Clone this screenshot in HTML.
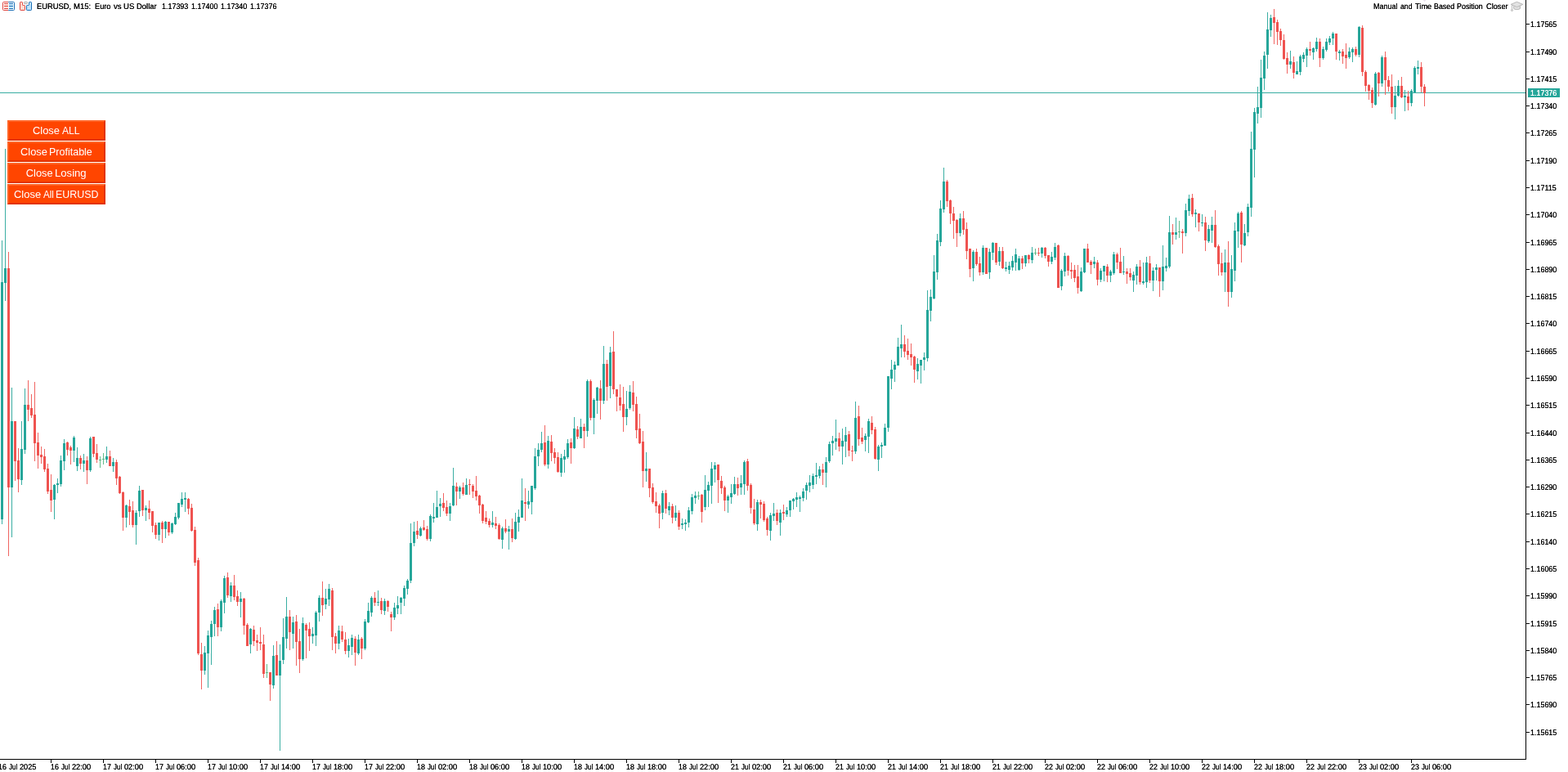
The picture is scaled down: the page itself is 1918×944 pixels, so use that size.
<!DOCTYPE html>
<html lang="en"><head><meta charset="utf-8"><title>EURUSD, M15</title>
<style>
html,body{margin:0;padding:0;background:#fff;}
body{width:1918px;height:944px;position:relative;overflow:hidden;font-family:"Liberation Sans",sans-serif;color:#000;}
#chart{position:absolute;left:0;top:0;width:1918px;height:944px;}
.t{position:absolute;white-space:pre;font-size:9.8px;line-height:12px;height:12px;transform-origin:0 0;text-rendering:geometricPrecision;text-shadow:0 0 0 #000;}
.pl{left:1872.3px;transform:scaleX(0.912);}
.tl{top:933px;transform:scaleX(0.912);}
.vax{position:absolute;left:1866px;top:0;width:1px;height:929px;background:#000;}
.hax{position:absolute;left:0;top:928px;width:1867px;height:1px;background:#000;}
.pt{position:absolute;left:1867px;width:4px;height:1px;background:#000;}
.tt{position:absolute;top:929px;width:1px;height:4px;background:#000;}
.bid{position:absolute;left:0;top:113px;width:1866px;height:1px;background:#38ada2;}
.bidlab{position:absolute;left:1869px;top:108px;width:39px;height:11px;background:#26a69a;}
.bidtxt{color:#fff;text-shadow:0 0 0 #fff;}
.btn{position:absolute;left:9px;width:120px;height:25px;box-sizing:border-box;background:#ff4500;border:2px solid;border-color:#ff6426 #e23300 #e23300 #ff6426;color:#fff;font-size:12.8px;line-height:21px;text-align:center;white-space:pre;}
.bw{position:absolute;top:0;transform-origin:0 0;}
</style></head><body>
<div class="bid"></div>
<svg id="chart" width="1918" height="944" viewBox="0 0 1918 944" shape-rendering="crispEdges">
<path fill="#3aaea3" d="M2 294h1V641h-1zM6 182h1V368h-1zM14 474h1V657h-1zM26 515h1V593h-1zM30 475h1V555h-1zM66 592h1V635h-1zM70 585h1V603h-1zM74 557h1V595h-1zM78 537h1V575h-1zM90 533h1V565h-1zM94 547h1V576h-1zM102 555h1V577h-1zM110 534h1V577h-1zM130 546h1V566h-1zM138 560h1V577h-1zM154 617h1V645h-1zM166 624h1V666h-1zM170 594h1V632h-1zM178 618h1V637h-1zM194 639h1V661h-1zM202 637h1V658h-1zM210 639h1V653h-1zM214 627h1V642h-1zM218 615h1V635h-1zM222 602h1V620h-1zM226 602h1V626h-1zM250 790h1V825h-1zM254 771h1V841h-1zM258 759h1V813h-1zM262 742h1V778h-1zM270 733h1V772h-1zM274 704h1V750h-1zM282 712h1V736h-1zM294 724h1V755h-1zM306 768h1V799h-1zM334 789h1V842h-1zM342 788h1V918h-1zM346 756h1V812h-1zM350 730h1V793h-1zM358 754h1V793h-1zM370 755h1V808h-1zM382 767h1V787h-1zM386 747h1V790h-1zM390 728h1V760h-1zM398 720h1V745h-1zM402 714h1V741h-1zM414 765h1V794h-1zM426 781h1V804h-1zM430 776h1V801h-1zM438 776h1V801h-1zM446 757h1V795h-1zM450 737h1V762h-1zM454 729h1V754h-1zM462 722h1V741h-1zM470 732h1V752h-1zM482 737h1V758h-1zM486 729h1V751h-1zM490 730h1V751h-1zM494 716h1V741h-1zM498 708h1V727h-1zM502 640h1V713h-1zM506 638h1V668h-1zM514 644h1V656h-1zM526 629h1V662h-1zM530 615h1V639h-1zM534 600h1V633h-1zM538 609h1V632h-1zM550 615h1V637h-1zM554 572h1V619h-1zM562 594h1V610h-1zM570 585h1V605h-1zM602 625h1V645h-1zM614 644h1V671h-1zM622 643h1V672h-1zM630 627h1V660h-1zM634 623h1V650h-1zM638 585h1V633h-1zM646 600h1V622h-1zM650 594h1V629h-1zM654 548h1V599h-1zM658 542h1V570h-1zM662 528h1V553h-1zM670 533h1V573h-1zM686 555h1V583h-1zM690 550h1V578h-1zM694 537h1V561h-1zM702 510h1V549h-1zM710 512h1V536h-1zM718 464h1V534h-1zM726 487h1V531h-1zM730 473h1V506h-1zM738 423h1V494h-1zM746 424h1V487h-1zM766 478h1V520h-1zM770 471h1V501h-1zM790 553h1V589h-1zM810 600h1V635h-1zM818 614h1V630h-1zM826 618h1V637h-1zM834 634h1V647h-1zM838 635h1V649h-1zM842 620h1V645h-1zM846 604h1V629h-1zM850 601h1V616h-1zM862 581h1V624h-1zM866 589h1V620h-1zM870 565h1V616h-1zM874 565h1V590h-1zM890 605h1V627h-1zM894 592h1V616h-1zM898 583h1V605h-1zM906 581h1V605h-1zM910 563h1V605h-1zM926 611h1V649h-1zM942 627h1V661h-1zM946 615h1V637h-1zM954 623h1V655h-1zM962 620h1V632h-1zM966 612h1V632h-1zM970 609h1V623h-1zM974 602h1V620h-1zM978 606h1V626h-1zM982 597h1V613h-1zM986 590h1V611h-1zM990 581h1V602h-1zM994 579h1V598h-1zM998 566h1V592h-1zM1002 570h1V585h-1zM1010 559h1V596h-1zM1014 540h1V566h-1zM1018 533h1V557h-1zM1022 513h1V550h-1zM1030 524h1V568h-1zM1034 522h1V559h-1zM1046 491h1V555h-1zM1058 530h1V552h-1zM1062 512h1V554h-1zM1074 544h1V576h-1zM1078 541h1V560h-1zM1082 518h1V545h-1zM1086 460h1V528h-1zM1090 440h1V476h-1zM1094 442h1V467h-1zM1098 413h1V447h-1zM1102 397h1V437h-1zM1122 438h1V464h-1zM1126 440h1V469h-1zM1130 431h1V453h-1zM1134 355h1V442h-1zM1138 354h1V393h-1zM1142 312h1V366h-1zM1146 286h1V342h-1zM1150 245h1V301h-1zM1154 205h1V260h-1zM1174 261h1V289h-1zM1190 306h1V344h-1zM1202 300h1V336h-1zM1210 304h1V341h-1zM1214 296h1V318h-1zM1222 302h1V325h-1zM1230 320h1V332h-1zM1234 320h1V335h-1zM1238 313h1V331h-1zM1242 304h1V331h-1zM1246 313h1V331h-1zM1254 312h1V326h-1zM1262 302h1V322h-1zM1274 302h1V315h-1zM1286 308h1V323h-1zM1290 297h1V318h-1zM1298 329h1V355h-1zM1302 309h1V338h-1zM1322 327h1V357h-1zM1326 304h1V334h-1zM1338 314h1V328h-1zM1346 328h1V345h-1zM1350 325h1V344h-1zM1358 330h1V345h-1zM1362 308h1V336h-1zM1374 313h1V336h-1zM1386 332h1V357h-1zM1390 323h1V348h-1zM1398 321h1V348h-1zM1402 314h1V352h-1zM1410 327h1V356h-1zM1414 323h1V343h-1zM1422 300h1V355h-1zM1426 315h1V332h-1zM1430 264h1V328h-1zM1438 266h1V293h-1zM1450 249h1V289h-1zM1454 238h1V264h-1zM1462 256h1V278h-1zM1470 262h1V277h-1zM1478 275h1V297h-1zM1482 265h1V297h-1zM1498 305h1V357h-1zM1506 312h1V364h-1zM1510 272h1V344h-1zM1514 259h1V303h-1zM1522 274h1V301h-1zM1526 249h1V289h-1zM1530 161h1V265h-1zM1534 132h1V217h-1zM1538 106h1V151h-1zM1542 73h1V144h-1zM1546 63h1V110h-1zM1550 15h1V84h-1zM1554 18h1V45h-1zM1578 62h1V84h-1zM1586 75h1V91h-1zM1590 67h1V92h-1zM1594 64h1V76h-1zM1598 58h1V82h-1zM1606 58h1V73h-1zM1610 46h1V63h-1zM1618 57h1V73h-1zM1622 47h1V63h-1zM1626 44h1V55h-1zM1630 39h1V55h-1zM1638 61h1V74h-1zM1650 58h1V72h-1zM1654 58h1V76h-1zM1662 32h1V70h-1zM1682 88h1V129h-1zM1690 68h1V106h-1zM1706 105h1V146h-1zM1710 98h1V118h-1zM1718 110h1V136h-1zM1726 109h1V130h-1zM1730 81h1V113h-1zM1734 74h1V91h-1z"/>
<path fill="#f06461" d="M10 308h1V680h-1zM18 515h1V588h-1zM22 548h1V602h-1zM34 465h1V515h-1zM38 482h1V511h-1zM42 467h1V564h-1zM46 529h1V573h-1zM50 546h1V567h-1zM54 549h1V577h-1zM58 567h1V604h-1zM62 580h1V626h-1zM82 540h1V557h-1zM86 545h1V568h-1zM98 557h1V574h-1zM106 558h1V592h-1zM114 534h1V559h-1zM118 543h1V566h-1zM134 551h1V570h-1zM142 562h1V593h-1zM146 582h1V604h-1zM150 601h1V649h-1zM158 611h1V642h-1zM162 613h1V645h-1zM174 599h1V631h-1zM182 612h1V635h-1zM186 625h1V651h-1zM190 639h1V659h-1zM198 637h1V664h-1zM206 638h1V655h-1zM230 609h1V629h-1zM234 616h1V650h-1zM238 644h1V692h-1zM242 682h1V801h-1zM246 786h1V843h-1zM266 738h1V778h-1zM278 700h1V731h-1zM286 703h1V734h-1zM290 722h1V741h-1zM298 731h1V776h-1zM302 762h1V790h-1zM310 765h1V790h-1zM314 776h1V796h-1zM318 767h1V795h-1zM322 776h1V829h-1zM330 822h1V857h-1zM338 784h1V826h-1zM354 746h1V795h-1zM362 752h1V814h-1zM366 769h1V823h-1zM374 762h1V805h-1zM378 761h1V796h-1zM394 711h1V753h-1zM406 719h1V795h-1zM410 774h1V799h-1zM418 765h1V785h-1zM422 773h1V800h-1zM434 778h1V814h-1zM442 779h1V806h-1zM458 724h1V741h-1zM466 731h1V751h-1zM474 734h1V748h-1zM478 748h1V772h-1zM510 637h1V659h-1zM518 636h1V649h-1zM522 643h1V661h-1zM542 603h1V625h-1zM546 612h1V631h-1zM558 590h1V618h-1zM566 590h1V606h-1zM574 586h1V605h-1zM578 592h1V609h-1zM582 582h1V612h-1zM586 605h1V628h-1zM590 616h1V640h-1zM594 625h1V641h-1zM598 634h1V645h-1zM606 632h1V647h-1zM610 640h1V660h-1zM618 635h1V652h-1zM626 634h1V663h-1zM642 597h1V637h-1zM666 520h1V570h-1zM674 532h1V564h-1zM678 548h1V567h-1zM682 553h1V578h-1zM698 536h1V567h-1zM706 521h1V537h-1zM714 518h1V548h-1zM722 464h1V514h-1zM734 465h1V513h-1zM742 440h1V490h-1zM750 405h1V482h-1zM754 476h1V503h-1zM758 470h1V502h-1zM762 473h1V528h-1zM774 466h1V503h-1zM778 485h1V536h-1zM782 506h1V543h-1zM786 527h1V596h-1zM794 573h1V608h-1zM798 591h1V616h-1zM802 602h1V627h-1zM806 616h1V646h-1zM814 599h1V628h-1zM822 616h1V640h-1zM830 624h1V648h-1zM858 604h1V639h-1zM878 568h1V615h-1zM882 582h1V604h-1zM886 594h1V625h-1zM902 584h1V606h-1zM914 561h1V600h-1zM918 591h1V628h-1zM922 610h1V642h-1zM930 611h1V634h-1zM934 613h1V638h-1zM938 632h1V655h-1zM950 623h1V642h-1zM958 617h1V636h-1zM1006 567h1V593h-1zM1026 529h1V552h-1zM1038 527h1V558h-1zM1042 545h1V564h-1zM1050 496h1V545h-1zM1054 523h1V543h-1zM1066 509h1V531h-1zM1070 522h1V562h-1zM1106 410h1V437h-1zM1110 414h1V440h-1zM1114 420h1V447h-1zM1118 435h1V468h-1zM1158 220h1V253h-1zM1162 244h1V274h-1zM1166 253h1V292h-1zM1170 268h1V302h-1zM1178 258h1V287h-1zM1182 272h1V317h-1zM1186 304h1V339h-1zM1194 304h1V325h-1zM1198 314h1V337h-1zM1206 303h1V335h-1zM1218 297h1V324h-1zM1226 302h1V329h-1zM1250 313h1V329h-1zM1258 311h1V322h-1zM1270 303h1V313h-1zM1278 302h1V316h-1zM1282 312h1V326h-1zM1294 299h1V352h-1zM1306 312h1V337h-1zM1310 321h1V341h-1zM1314 324h1V345h-1zM1318 324h1V359h-1zM1330 298h1V321h-1zM1334 318h1V335h-1zM1342 318h1V349h-1zM1354 323h1V345h-1zM1366 309h1V329h-1zM1370 303h1V334h-1zM1378 328h1V347h-1zM1382 328h1V343h-1zM1394 318h1V348h-1zM1406 313h1V346h-1zM1418 327h1V363h-1zM1434 274h1V299h-1zM1446 280h1V310h-1zM1458 237h1V265h-1zM1466 261h1V283h-1zM1474 265h1V307h-1zM1486 257h1V303h-1zM1490 299h1V337h-1zM1494 309h1V337h-1zM1502 295h1V375h-1zM1518 258h1V321h-1zM1558 11h1V54h-1zM1562 24h1V55h-1zM1566 35h1V56h-1zM1570 42h1V73h-1zM1574 64h1V90h-1zM1582 69h1V96h-1zM1602 51h1V68h-1zM1614 47h1V82h-1zM1634 41h1V73h-1zM1642 60h1V78h-1zM1646 53h1V84h-1zM1658 57h1V69h-1zM1666 31h1V93h-1zM1670 86h1V112h-1zM1674 103h1V122h-1zM1678 107h1V132h-1zM1686 88h1V118h-1zM1694 63h1V116h-1zM1698 93h1V112h-1zM1702 91h1V139h-1zM1714 94h1V120h-1zM1722 111h1V135h-1zM1738 76h1V113h-1zM1742 103h1V130h-1z"/>
<path fill="#62bc8a" d="M122 558h1V572h-1zM126 554h1V568h-1zM326 812h1V829h-1zM854 601h1V611h-1zM1266 304h1V312h-1zM1442 270h1V291h-1z"/>
<path fill="#26a69a" d="M1 345h3V635h-3zM5 328h3V346h-3zM13 515h3V596h-3zM25 549h3V587h-3zM29 495h3V550h-3zM65 593h3V611h-3zM69 591h3V593h-3zM73 563h3V592h-3zM77 542h3V564h-3zM89 535h3V551h-3zM93 560h3V570h-3zM101 563h3V567h-3zM109 536h3V575h-3zM129 558h3V562h-3zM137 565h3V570h-3zM153 618h3V633h-3zM165 627h3V642h-3zM169 600h3V625h-3zM177 621h3V624h-3zM193 639h3V654h-3zM201 638h3V647h-3zM209 640h3V651h-3zM213 632h3V641h-3zM217 615h3V633h-3zM221 610h3V617h-3zM225 609h3V611h-3zM249 798h3V820h-3zM253 777h3V799h-3zM257 763h3V779h-3zM261 746h3V763h-3zM269 735h3V767h-3zM273 707h3V737h-3zM281 716h3V729h-3zM293 732h3V736h-3zM305 769h3V788h-3zM333 802h3V838h-3zM341 808h3V826h-3zM345 779h3V807h-3zM349 754h3V781h-3zM357 761h3V775h-3zM369 762h3V806h-3zM381 775h3V778h-3zM385 749h3V777h-3zM389 731h3V749h-3zM397 732h3V739h-3zM401 720h3V733h-3zM413 771h3V787h-3zM425 789h3V796h-3zM429 780h3V791h-3zM437 782h3V799h-3zM445 760h3V793h-3zM449 747h3V761h-3zM453 731h3V749h-3zM461 736h3V737h-3zM469 735h3V747h-3zM481 743h3V755h-3zM485 740h3V744h-3zM489 731h3V737h-3zM493 719h3V732h-3zM497 710h3V720h-3zM501 664h3V710h-3zM505 650h3V664h-3zM513 646h3V655h-3zM525 631h3V659h-3zM529 632h3V634h-3zM533 620h3V633h-3zM537 616h3V619h-3zM549 619h3V628h-3zM553 594h3V618h-3zM561 596h3V601h-3zM569 593h3V605h-3zM601 639h3V642h-3zM613 646h3V660h-3zM621 647h3V650h-3zM629 638h3V659h-3zM633 632h3V639h-3zM637 612h3V633h-3zM645 613h3V617h-3zM649 594h3V614h-3zM653 558h3V597h-3zM657 550h3V558h-3zM661 542h3V550h-3zM669 539h3V568h-3zM685 560h3V578h-3zM689 558h3V562h-3zM693 542h3V559h-3zM701 524h3V548h-3zM709 522h3V536h-3zM717 466h3V527h-3zM725 489h3V511h-3zM729 474h3V490h-3zM737 445h3V490h-3zM745 431h3V472h-3zM765 500h3V510h-3zM769 479h3V499h-3zM789 573h3V576h-3zM809 603h3V627h-3zM817 619h3V624h-3zM825 627h3V633h-3zM833 640h3V642h-3zM837 639h3V641h-3zM841 624h3V639h-3zM845 608h3V625h-3zM849 606h3V609h-3zM861 599h3V620h-3zM865 593h3V600h-3zM869 573h3V594h-3zM873 569h3V574h-3zM889 607h3V612h-3zM893 603h3V608h-3zM897 592h3V604h-3zM905 591h3V596h-3zM909 565h3V592h-3zM925 614h3V641h-3zM941 630h3V649h-3zM945 628h3V631h-3zM953 627h3V639h-3zM961 624h3V629h-3zM965 612h3V624h-3zM969 610h3V613h-3zM973 608h3V611h-3zM977 608h3V610h-3zM981 601h3V609h-3zM985 593h3V600h-3zM989 590h3V594h-3zM993 582h3V593h-3zM997 581h3V583h-3zM1001 574h3V582h-3zM1009 565h3V578h-3zM1013 543h3V564h-3zM1017 539h3V542h-3zM1021 536h3V540h-3zM1029 539h3V546h-3zM1033 532h3V540h-3zM1045 511h3V552h-3zM1057 533h3V538h-3zM1061 515h3V534h-3zM1073 546h3V562h-3zM1077 544h3V546h-3zM1081 523h3V545h-3zM1085 460h3V523h-3zM1089 452h3V463h-3zM1093 446h3V452h-3zM1097 424h3V447h-3zM1101 421h3V426h-3zM1121 445h3V454h-3zM1125 440h3V447h-3zM1129 437h3V440h-3zM1133 379h3V438h-3zM1137 363h3V380h-3zM1141 332h3V365h-3zM1145 294h3V333h-3zM1149 255h3V296h-3zM1153 222h3V256h-3zM1173 267h3V285h-3zM1189 308h3V328h-3zM1201 303h3V333h-3zM1209 308h3V333h-3zM1213 297h3V309h-3zM1221 307h3V320h-3zM1229 327h3V329h-3zM1233 325h3V330h-3zM1237 319h3V327h-3zM1241 311h3V321h-3zM1245 316h3V330h-3zM1253 312h3V322h-3zM1261 309h3V318h-3zM1273 303h3V310h-3zM1285 314h3V320h-3zM1289 302h3V315h-3zM1297 331h3V350h-3zM1301 313h3V332h-3zM1321 332h3V356h-3zM1325 304h3V333h-3zM1337 320h3V323h-3zM1345 331h3V342h-3zM1349 325h3V332h-3zM1357 332h3V337h-3zM1361 311h3V334h-3zM1373 332h3V333h-3zM1385 336h3V343h-3zM1389 326h3V337h-3zM1397 344h3V346h-3zM1401 321h3V345h-3zM1409 331h3V343h-3zM1413 327h3V330h-3zM1421 326h3V344h-3zM1425 325h3V328h-3zM1429 284h3V326h-3zM1437 284h3V287h-3zM1449 257h3V285h-3zM1453 243h3V258h-3zM1461 260h3V262h-3zM1469 272h3V273h-3zM1477 280h3V295h-3zM1481 275h3V282h-3zM1497 321h3V333h-3zM1505 329h3V357h-3zM1509 282h3V331h-3zM1513 261h3V283h-3zM1521 285h3V300h-3zM1525 253h3V284h-3zM1529 182h3V254h-3zM1533 137h3V183h-3zM1537 131h3V139h-3zM1541 95h3V132h-3zM1545 68h3V96h-3zM1549 36h3V67h-3zM1553 22h3V37h-3zM1577 75h3V79h-3zM1585 87h3V91h-3zM1589 69h3V88h-3zM1593 67h3V72h-3zM1597 60h3V68h-3zM1605 59h3V64h-3zM1609 51h3V60h-3zM1617 60h3V71h-3zM1621 51h3V61h-3zM1625 47h3V52h-3zM1629 41h3V47h-3zM1637 63h3V65h-3zM1649 63h3V70h-3zM1653 60h3V64h-3zM1661 33h3V67h-3zM1681 90h3V128h-3zM1689 70h3V102h-3zM1705 117h3V131h-3zM1709 105h3V117h-3zM1717 117h3V119h-3zM1725 111h3V126h-3zM1729 83h3V113h-3zM1733 82h3V84h-3z"/>
<path fill="#ef5350" d="M9 328h3V596h-3zM17 515h3V564h-3zM21 563h3V586h-3zM33 495h3V501h-3zM37 499h3V508h-3zM41 507h3V542h-3zM45 541h3V557h-3zM49 556h3V559h-3zM53 558h3V574h-3zM57 573h3V601h-3zM61 599h3V612h-3zM81 541h3V550h-3zM85 547h3V551h-3zM97 560h3V567h-3zM105 563h3V575h-3zM113 534h3V555h-3zM117 554h3V562h-3zM133 558h3V570h-3zM141 565h3V585h-3zM145 583h3V603h-3zM149 602h3V633h-3zM157 619h3V626h-3zM161 624h3V642h-3zM173 599h3V624h-3zM181 622h3V627h-3zM185 625h3V643h-3zM189 642h3V654h-3zM197 639h3V647h-3zM205 638h3V651h-3zM229 610h3V622h-3zM233 621h3V649h-3zM237 648h3V688h-3zM241 685h3V799h-3zM245 800h3V820h-3zM265 745h3V767h-3zM277 706h3V728h-3zM285 716h3V730h-3zM289 729h3V736h-3zM297 732h3V765h-3zM301 764h3V790h-3zM309 770h3V784h-3zM313 783h3V786h-3zM317 785h3V787h-3zM321 788h3V824h-3zM329 822h3V837h-3zM337 801h3V826h-3zM353 754h3V773h-3zM361 760h3V785h-3zM365 784h3V806h-3zM373 764h3V771h-3zM377 769h3V778h-3zM393 731h3V740h-3zM405 722h3V779h-3zM409 778h3V787h-3zM417 772h3V782h-3zM421 782h3V796h-3zM433 781h3V798h-3zM441 781h3V793h-3zM457 731h3V737h-3zM465 735h3V746h-3zM473 735h3V742h-3zM477 751h3V755h-3zM509 649h3V654h-3zM517 645h3V648h-3zM521 647h3V659h-3zM541 615h3V621h-3zM545 620h3V628h-3zM557 595h3V601h-3zM565 596h3V604h-3zM573 592h3V593h-3zM577 594h3V601h-3zM581 600h3V607h-3zM585 606h3V618h-3zM589 617h3V637h-3zM593 633h3V638h-3zM597 637h3V642h-3zM605 640h3V643h-3zM609 642h3V659h-3zM617 646h3V650h-3zM625 647h3V658h-3zM641 614h3V616h-3zM665 541h3V568h-3zM673 540h3V554h-3zM677 553h3V560h-3zM681 559h3V577h-3zM697 541h3V548h-3zM705 525h3V534h-3zM713 522h3V527h-3zM721 466h3V511h-3zM733 475h3V490h-3zM741 445h3V473h-3zM749 430h3V476h-3zM753 476h3V485h-3zM757 486h3V496h-3zM761 494h3V510h-3zM773 480h3V495h-3zM777 494h3V526h-3zM781 524h3V542h-3zM785 540h3V576h-3zM793 573h3V597h-3zM797 596h3V614h-3zM801 613h3V619h-3zM805 618h3V628h-3zM813 603h3V622h-3zM821 619h3V633h-3zM829 627h3V644h-3zM857 605h3V626h-3zM877 568h3V587h-3zM881 588h3V597h-3zM885 596h3V612h-3zM901 592h3V597h-3zM913 564h3V594h-3zM917 593h3V621h-3zM921 623h3V640h-3zM929 614h3V617h-3zM933 616h3V636h-3zM937 634h3V648h-3zM949 627h3V637h-3zM957 626h3V628h-3zM1005 574h3V578h-3zM1025 536h3V546h-3zM1037 531h3V551h-3zM1041 551h3V552h-3zM1049 509h3V537h-3zM1053 535h3V540h-3zM1065 517h3V526h-3zM1069 525h3V561h-3zM1105 421h3V430h-3zM1109 429h3V434h-3zM1113 433h3V437h-3zM1117 436h3V452h-3zM1157 222h3V246h-3zM1161 245h3V261h-3zM1165 261h3V270h-3zM1169 269h3V285h-3zM1177 267h3V281h-3zM1181 280h3V307h-3zM1185 304h3V329h-3zM1193 308h3V323h-3zM1197 322h3V333h-3zM1205 303h3V335h-3zM1217 297h3V321h-3zM1225 307h3V328h-3zM1249 316h3V322h-3zM1257 312h3V317h-3zM1269 309h3V310h-3zM1277 303h3V313h-3zM1281 312h3V320h-3zM1293 300h3V352h-3zM1305 313h3V331h-3zM1309 330h3V332h-3zM1313 330h3V340h-3zM1317 338h3V352h-3zM1329 304h3V321h-3zM1333 320h3V324h-3zM1341 321h3V342h-3zM1353 326h3V337h-3zM1365 311h3V321h-3zM1369 320h3V334h-3zM1377 332h3V335h-3zM1381 334h3V339h-3zM1393 326h3V345h-3zM1405 322h3V343h-3zM1417 327h3V344h-3zM1433 284h3V287h-3zM1445 283h3V285h-3zM1457 242h3V262h-3zM1465 261h3V272h-3zM1473 272h3V294h-3zM1485 275h3V302h-3zM1489 301h3V323h-3zM1493 322h3V333h-3zM1501 321h3V357h-3zM1517 260h3V299h-3zM1557 21h3V28h-3zM1561 27h3V39h-3zM1565 38h3V49h-3zM1569 49h3V72h-3zM1573 71h3V79h-3zM1581 76h3V89h-3zM1601 60h3V62h-3zM1613 51h3V71h-3zM1633 41h3V63h-3zM1641 63h3V69h-3zM1645 67h3V71h-3zM1657 60h3V67h-3zM1665 34h3V88h-3zM1669 88h3V105h-3zM1673 104h3V111h-3zM1677 110h3V126h-3zM1685 89h3V102h-3zM1693 70h3V98h-3zM1697 98h3V106h-3zM1701 106h3V131h-3zM1713 105h3V119h-3zM1721 118h3V126h-3zM1737 82h3V106h-3zM1741 106h3V114h-3z"/>
<path fill="#62bc8a" d="M121 562h3V563h-3zM125 561h3V562h-3zM325 822h3V823h-3zM853 606h3V607h-3zM1265 309h3V310h-3zM1441 283h3V284h-3z"/>
<path d="M1740.700 0h3.800l-1.900 2.200z" fill="#eae3ee" shape-rendering="auto"/>
</svg>
<div class="vax"></div><div class="hax"></div>
<div class="pt" style="top:29px"></div><span class="t pl" style="top:25px">1.17565</span>
<div class="pt" style="top:63px"></div><span class="t pl" style="top:59px">1.17490</span>
<div class="pt" style="top:96px"></div><span class="t pl" style="top:92px">1.17415</span>
<div class="pt" style="top:129px"></div><span class="t pl" style="top:125px">1.17340</span>
<div class="pt" style="top:162px"></div><span class="t pl" style="top:158px">1.17265</span>
<div class="pt" style="top:196px"></div><span class="t pl" style="top:192px">1.17190</span>
<div class="pt" style="top:229px"></div><span class="t pl" style="top:225px">1.17115</span>
<div class="pt" style="top:262px"></div><span class="t pl" style="top:258px">1.17040</span>
<div class="pt" style="top:296px"></div><span class="t pl" style="top:292px">1.16965</span>
<div class="pt" style="top:329px"></div><span class="t pl" style="top:325px">1.16890</span>
<div class="pt" style="top:362px"></div><span class="t pl" style="top:358px">1.16815</span>
<div class="pt" style="top:395px"></div><span class="t pl" style="top:391px">1.16740</span>
<div class="pt" style="top:429px"></div><span class="t pl" style="top:425px">1.16665</span>
<div class="pt" style="top:462px"></div><span class="t pl" style="top:458px">1.16590</span>
<div class="pt" style="top:495px"></div><span class="t pl" style="top:491px">1.16515</span>
<div class="pt" style="top:529px"></div><span class="t pl" style="top:525px">1.16440</span>
<div class="pt" style="top:562px"></div><span class="t pl" style="top:558px">1.16365</span>
<div class="pt" style="top:595px"></div><span class="t pl" style="top:591px">1.16290</span>
<div class="pt" style="top:628px"></div><span class="t pl" style="top:624px">1.16215</span>
<div class="pt" style="top:662px"></div><span class="t pl" style="top:658px">1.16140</span>
<div class="pt" style="top:695px"></div><span class="t pl" style="top:691px">1.16065</span>
<div class="pt" style="top:728px"></div><span class="t pl" style="top:724px">1.15990</span>
<div class="pt" style="top:762px"></div><span class="t pl" style="top:758px">1.15915</span>
<div class="pt" style="top:795px"></div><span class="t pl" style="top:791px">1.15840</span>
<div class="pt" style="top:828px"></div><span class="t pl" style="top:824px">1.15765</span>
<div class="pt" style="top:861px"></div><span class="t pl" style="top:857px">1.15690</span>
<div class="pt" style="top:895px"></div><span class="t pl" style="top:891px">1.15615</span>
<span class="t tl" style="left:-2.00px;transform:scaleX(0.9)">16 </span><span class="t tl" style="left:11.00px;transform:scaleX(0.8);letter-spacing:0.25px">Jul </span><span class="t tl" style="left:24.40px;transform:scaleX(0.93)">2025</span>
<div class="tt" style="left:62px"></div>
<span class="t tl" style="left:62.00px;transform:scaleX(0.9)">16 </span><span class="t tl" style="left:75.00px;transform:scaleX(0.8);letter-spacing:0.25px">Jul </span><span class="t tl" style="left:88.40px;transform:scaleX(0.94)">22:00</span>
<div class="tt" style="left:126px"></div>
<span class="t tl" style="left:126.00px;transform:scaleX(0.9)">17 </span><span class="t tl" style="left:139.00px;transform:scaleX(0.8);letter-spacing:0.25px">Jul </span><span class="t tl" style="left:152.40px;transform:scaleX(0.94)">02:00</span>
<div class="tt" style="left:190px"></div>
<span class="t tl" style="left:190.00px;transform:scaleX(0.9)">17 </span><span class="t tl" style="left:203.00px;transform:scaleX(0.8);letter-spacing:0.25px">Jul </span><span class="t tl" style="left:216.40px;transform:scaleX(0.94)">06:00</span>
<div class="tt" style="left:254px"></div>
<span class="t tl" style="left:254.00px;transform:scaleX(0.9)">17 </span><span class="t tl" style="left:267.00px;transform:scaleX(0.8);letter-spacing:0.25px">Jul </span><span class="t tl" style="left:280.40px;transform:scaleX(0.94)">10:00</span>
<div class="tt" style="left:318px"></div>
<span class="t tl" style="left:318.00px;transform:scaleX(0.9)">17 </span><span class="t tl" style="left:331.00px;transform:scaleX(0.8);letter-spacing:0.25px">Jul </span><span class="t tl" style="left:344.40px;transform:scaleX(0.94)">14:00</span>
<div class="tt" style="left:382px"></div>
<span class="t tl" style="left:382.00px;transform:scaleX(0.9)">17 </span><span class="t tl" style="left:395.00px;transform:scaleX(0.8);letter-spacing:0.25px">Jul </span><span class="t tl" style="left:408.40px;transform:scaleX(0.94)">18:00</span>
<div class="tt" style="left:446px"></div>
<span class="t tl" style="left:446.00px;transform:scaleX(0.9)">17 </span><span class="t tl" style="left:459.00px;transform:scaleX(0.8);letter-spacing:0.25px">Jul </span><span class="t tl" style="left:472.40px;transform:scaleX(0.94)">22:00</span>
<div class="tt" style="left:510px"></div>
<span class="t tl" style="left:510.00px;transform:scaleX(0.9)">18 </span><span class="t tl" style="left:523.00px;transform:scaleX(0.8);letter-spacing:0.25px">Jul </span><span class="t tl" style="left:536.40px;transform:scaleX(0.94)">02:00</span>
<div class="tt" style="left:574px"></div>
<span class="t tl" style="left:574.00px;transform:scaleX(0.9)">18 </span><span class="t tl" style="left:587.00px;transform:scaleX(0.8);letter-spacing:0.25px">Jul </span><span class="t tl" style="left:600.40px;transform:scaleX(0.94)">06:00</span>
<div class="tt" style="left:638px"></div>
<span class="t tl" style="left:638.00px;transform:scaleX(0.9)">18 </span><span class="t tl" style="left:651.00px;transform:scaleX(0.8);letter-spacing:0.25px">Jul </span><span class="t tl" style="left:664.40px;transform:scaleX(0.94)">10:00</span>
<div class="tt" style="left:702px"></div>
<span class="t tl" style="left:702.00px;transform:scaleX(0.9)">18 </span><span class="t tl" style="left:715.00px;transform:scaleX(0.8);letter-spacing:0.25px">Jul </span><span class="t tl" style="left:728.40px;transform:scaleX(0.94)">14:00</span>
<div class="tt" style="left:766px"></div>
<span class="t tl" style="left:766.00px;transform:scaleX(0.9)">18 </span><span class="t tl" style="left:779.00px;transform:scaleX(0.8);letter-spacing:0.25px">Jul </span><span class="t tl" style="left:792.40px;transform:scaleX(0.94)">18:00</span>
<div class="tt" style="left:830px"></div>
<span class="t tl" style="left:830.00px;transform:scaleX(0.9)">18 </span><span class="t tl" style="left:843.00px;transform:scaleX(0.8);letter-spacing:0.25px">Jul </span><span class="t tl" style="left:856.40px;transform:scaleX(0.94)">22:00</span>
<div class="tt" style="left:894px"></div>
<span class="t tl" style="left:894.00px;transform:scaleX(0.9)">21 </span><span class="t tl" style="left:907.00px;transform:scaleX(0.8);letter-spacing:0.25px">Jul </span><span class="t tl" style="left:920.40px;transform:scaleX(0.94)">02:00</span>
<div class="tt" style="left:958px"></div>
<span class="t tl" style="left:958.00px;transform:scaleX(0.9)">21 </span><span class="t tl" style="left:971.00px;transform:scaleX(0.8);letter-spacing:0.25px">Jul </span><span class="t tl" style="left:984.40px;transform:scaleX(0.94)">06:00</span>
<div class="tt" style="left:1022px"></div>
<span class="t tl" style="left:1022.00px;transform:scaleX(0.9)">21 </span><span class="t tl" style="left:1035.00px;transform:scaleX(0.8);letter-spacing:0.25px">Jul </span><span class="t tl" style="left:1048.40px;transform:scaleX(0.94)">10:00</span>
<div class="tt" style="left:1086px"></div>
<span class="t tl" style="left:1086.00px;transform:scaleX(0.9)">21 </span><span class="t tl" style="left:1099.00px;transform:scaleX(0.8);letter-spacing:0.25px">Jul </span><span class="t tl" style="left:1112.40px;transform:scaleX(0.94)">14:00</span>
<div class="tt" style="left:1150px"></div>
<span class="t tl" style="left:1150.00px;transform:scaleX(0.9)">21 </span><span class="t tl" style="left:1163.00px;transform:scaleX(0.8);letter-spacing:0.25px">Jul </span><span class="t tl" style="left:1176.40px;transform:scaleX(0.94)">18:00</span>
<div class="tt" style="left:1214px"></div>
<span class="t tl" style="left:1214.00px;transform:scaleX(0.9)">21 </span><span class="t tl" style="left:1227.00px;transform:scaleX(0.8);letter-spacing:0.25px">Jul </span><span class="t tl" style="left:1240.40px;transform:scaleX(0.94)">22:00</span>
<div class="tt" style="left:1278px"></div>
<span class="t tl" style="left:1278.00px;transform:scaleX(0.9)">22 </span><span class="t tl" style="left:1291.00px;transform:scaleX(0.8);letter-spacing:0.25px">Jul </span><span class="t tl" style="left:1304.40px;transform:scaleX(0.94)">02:00</span>
<div class="tt" style="left:1342px"></div>
<span class="t tl" style="left:1342.00px;transform:scaleX(0.9)">22 </span><span class="t tl" style="left:1355.00px;transform:scaleX(0.8);letter-spacing:0.25px">Jul </span><span class="t tl" style="left:1368.40px;transform:scaleX(0.94)">06:00</span>
<div class="tt" style="left:1406px"></div>
<span class="t tl" style="left:1406.00px;transform:scaleX(0.9)">22 </span><span class="t tl" style="left:1419.00px;transform:scaleX(0.8);letter-spacing:0.25px">Jul </span><span class="t tl" style="left:1432.40px;transform:scaleX(0.94)">10:00</span>
<div class="tt" style="left:1470px"></div>
<span class="t tl" style="left:1470.00px;transform:scaleX(0.9)">22 </span><span class="t tl" style="left:1483.00px;transform:scaleX(0.8);letter-spacing:0.25px">Jul </span><span class="t tl" style="left:1496.40px;transform:scaleX(0.94)">14:00</span>
<div class="tt" style="left:1534px"></div>
<span class="t tl" style="left:1534.00px;transform:scaleX(0.9)">22 </span><span class="t tl" style="left:1547.00px;transform:scaleX(0.8);letter-spacing:0.25px">Jul </span><span class="t tl" style="left:1560.40px;transform:scaleX(0.94)">18:00</span>
<div class="tt" style="left:1598px"></div>
<span class="t tl" style="left:1598.00px;transform:scaleX(0.9)">22 </span><span class="t tl" style="left:1611.00px;transform:scaleX(0.8);letter-spacing:0.25px">Jul </span><span class="t tl" style="left:1624.40px;transform:scaleX(0.94)">22:00</span>
<div class="tt" style="left:1662px"></div>
<span class="t tl" style="left:1662.00px;transform:scaleX(0.9)">23 </span><span class="t tl" style="left:1675.00px;transform:scaleX(0.8);letter-spacing:0.25px">Jul </span><span class="t tl" style="left:1688.40px;transform:scaleX(0.94)">02:00</span>
<div class="tt" style="left:1726px"></div>
<span class="t tl" style="left:1726.00px;transform:scaleX(0.9)">23 </span><span class="t tl" style="left:1739.00px;transform:scaleX(0.8);letter-spacing:0.25px">Jul </span><span class="t tl" style="left:1752.40px;transform:scaleX(0.94)">06:00</span>
<div class="bidlab"></div><span class="t pl bidtxt" style="top:109px">1.17376</span>
<svg style="position:absolute;left:0;top:0" width="44" height="16" viewBox="0 0 44 16">
<rect x="5" y="4" width="5" height="7" fill="#fee0d6"/>
<rect x="11" y="4" width="5" height="7" fill="#c6e7fc"/>
<path d="M10.200 2.500H4.400a0.900 0.900 0 0 0-0.900 0.900v8.200a0.900 0.900 0 0 0 0.900 0.900h5.800" fill="none" stroke="#e0453e"/>
<path d="M10.200 2.500H16.600a0.900 0.900 0 0 1 0.900 0.900v8.200a0.900 0.900 0 0 1-0.900 0.900h-6.400" fill="none" stroke="#1b6fb6"/>
<path d="M5 4.500h5M5 7.500h5M5 10.500h5" stroke="#e0453e" fill="none"/>
<path d="M11 4.500h5M11 7.500h5M11 10.500h5" stroke="#1b6fb6" fill="none"/>
<path d="M25.200 2.500h1.600a0.700 0.700 0 0 1 0.700 0.700v2.600a0.700 0.700 0 0 0 0.700 0.700h1.600a0.700 0.700 0 0 1 0.700 0.700v4.600a0.700 0.700 0 0 1-0.700 0.700h-4.600a0.700 0.700 0 0 1-0.700-0.700v-8.600a0.700 0.700 0 0 1 0.700-0.700z" fill="#fedcd2" stroke="#e0453e"/>
<path d="M36.200 2.500h1.600a0.700 0.700 0 0 1 0.700 0.700v8.600a0.700 0.700 0 0 1-0.700 0.700h-4.600a0.700 0.700 0 0 1-0.700-0.700v-4.600a0.700 0.700 0 0 1 0.700-0.700h1.600a0.700 0.700 0 0 0 0.700-0.700v-2.600a0.700 0.700 0 0 1 0.700-0.700z" fill="#c0e4fc" stroke="#1b6fb6"/>
<rect x="29.500" y="2.500" width="4" height="2" rx="0.600" fill="#fff" stroke="#a6a6a6"/>
</svg>
<div id="title">
<span class="t" style="left:44.55px;top:3px;transform:scaleX(0.955)">EURUSD, </span>
<span class="t" style="left:89.65px;top:3px;transform:scaleX(0.975)">M15: </span>
<span class="t" style="left:116.20px;top:3px;transform:scaleX(0.939)">Euro </span>
<span class="t" style="left:138.68px;top:3px;transform:scaleX(0.992)">vs </span>
<span class="t" style="left:150.97px;top:3px;transform:scaleX(0.978)">US </span>
<span class="t" style="left:166.88px;top:3px;transform:scaleX(0.962)">Dollar </span>
<span class="t" style="left:198.07px;top:3px;transform:scaleX(0.912)">1.17393 </span>
<span class="t" style="left:233.91px;top:3px;transform:scaleX(0.914)">1.17400 </span>
<span class="t" style="left:269.82px;top:3px;transform:scaleX(0.911)">1.17340 </span>
<span class="t" style="left:305.61px;top:3px;transform:scaleX(0.914)">1.17376</span>
</div><div id="ea">
<span class="t" style="left:1679.75px;top:3px;transform:scaleX(0.915)">Manual </span>
<span class="t" style="left:1712.76px;top:3px;transform:scaleX(0.894)">and </span>
<span class="t" style="left:1731.16px;top:3px;transform:scaleX(0.947)">Time </span>
<span class="t" style="left:1754.42px;top:3px;transform:scaleX(0.902)">Based </span>
<span class="t" style="left:1782.32px;top:3px;transform:scaleX(0.910)">Position </span>
<span class="t" style="left:1817.70px;top:3px;transform:scaleX(0.941)">Closer</span>
</div>
<svg style="position:absolute;left:1846px;top:0" width="18" height="16" viewBox="0 0 18 16">
<path d="M5.600 7.200v3.300c1.300 1.500 6.500 1.500 7.800 0v-3.300" fill="#e0e0e0" stroke="#b6b6b6" stroke-linejoin="round"/>
<path d="M9.500 2.300L16.900 5.400L9.500 8.500L2.100 5.400z" fill="#e3e3e3" stroke="#b9b9b9" stroke-linejoin="round"/>
<path d="M3.500 6v5.400" stroke="#bcbcbc" fill="none"/>
<circle cx="3.500" cy="12.500" r="1.100" fill="#dadada" stroke="#b8b8b8" stroke-width="0.900"/>
</svg>
<div class="btn" style="top:147px">
<span class="bw" style="left:28.55px;transform:scaleX(1.007)">Close </span>
<span class="bw" style="left:64.72px;transform:scaleX(0.947)">ALL</span>
</div>
<div class="btn" style="top:173px">
<span class="bw" style="left:13.55px;transform:scaleX(1.007)">Close </span>
<span class="bw" style="left:48.73px;transform:scaleX(0.977)">Profitable</span>
</div>
<div class="btn" style="top:199px">
<span class="bw" style="left:20.80px;transform:scaleX(1.000)">Close </span>
<span class="bw" style="left:56.48px;transform:scaleX(1.024)">Losing</span>
</div>
<div class="btn" style="top:225px">
<span class="bw" style="left:5.72px;transform:scaleX(1.011)">Close </span>
<span class="bw" style="left:42.02px;transform:scaleX(0.907)">All </span>
<span class="bw" style="left:57.22px;transform:scaleX(0.969)">EURUSD</span>
</div>
</body></html>
